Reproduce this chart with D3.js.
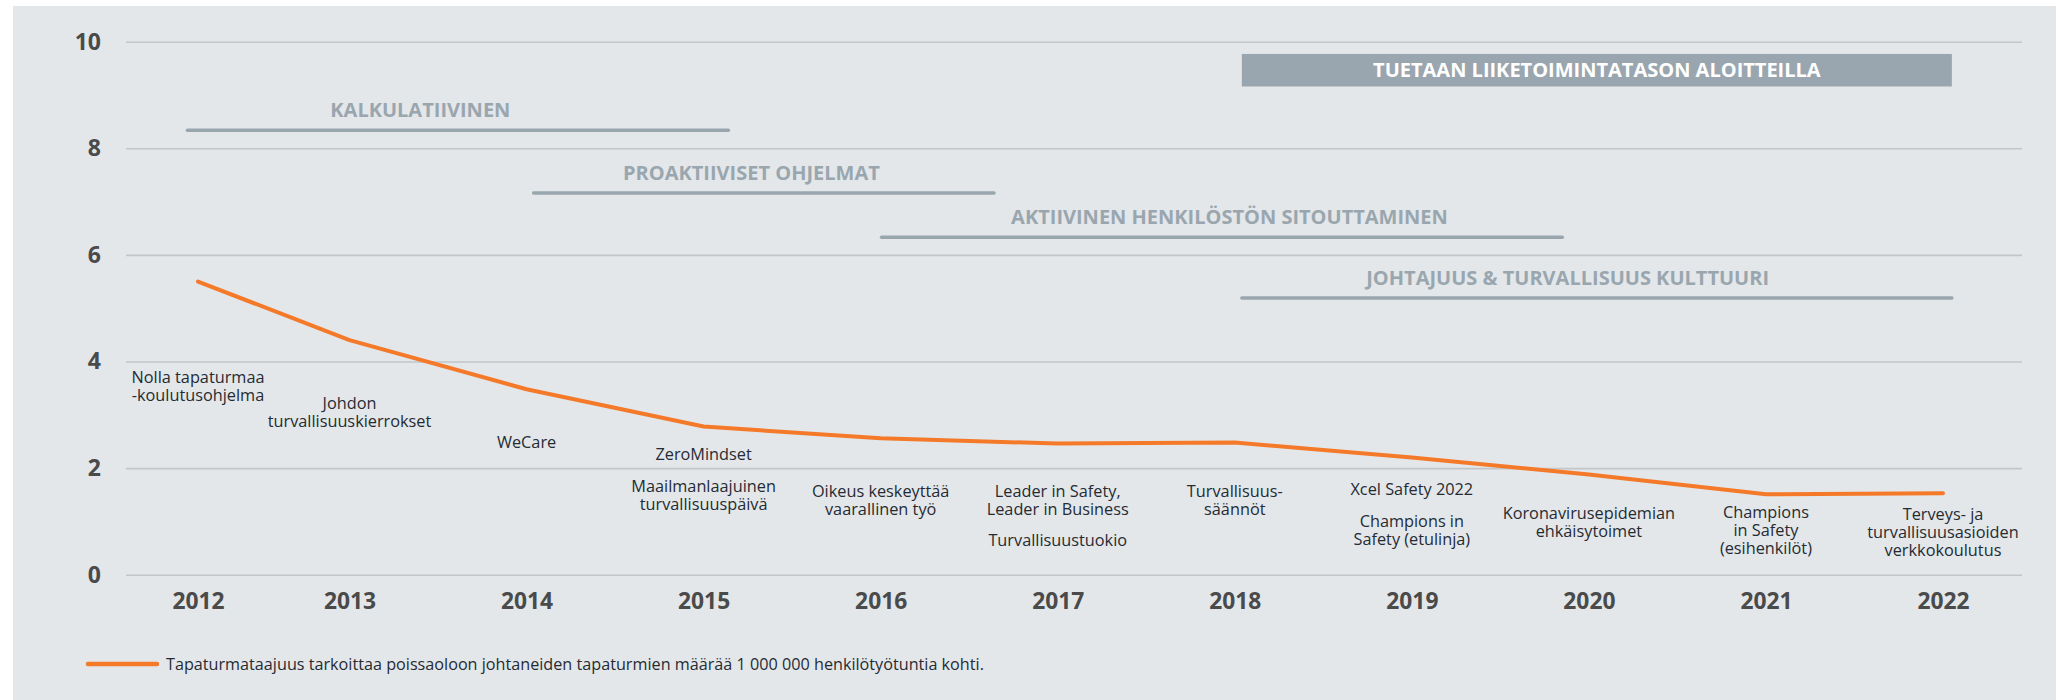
<!DOCTYPE html>
<html>
<head>
<meta charset="utf-8">
<script src="https://cdn.jsdelivr.net/npm/d3@7"></script>
<style>
  body { margin: 0; background: #fff; }
  svg { display: block; font-family: "Open Sans", "Noto Sans", sans-serif; }
</style>
</head>
<body>
<div id="chart"></div>
<script>
// chart values
const years = [2012, 2013, 2014, 2015, 2016, 2017, 2018, 2019, 2020, 2021, 2022];
const frequency = [5.50, 4.40, 3.48, 2.78, 2.56, 2.46, 2.48, 2.20, 1.88, 1.51, 1.53];
const yTicks = [0, 2, 4, 6, 8, 10];

// milestones under each year ("" = small gap)
const notes = [
  ["Nolla tapaturmaa", "-koulutusohjelma"],
  ["Johdon", "turvallisuuskierrokset"],
  ["WeCare"],
  ["ZeroMindset", "", "Maailmanlaajuinen", "turvallisuuspäivä"],
  ["Oikeus keskeyttää", "vaarallinen työ"],
  ["Leader in Safety,", "Leader in Business", "", "Turvallisuustuokio"],
  ["Turvallisuus-", "säännöt"],
  ["Xcel Safety 2022", "", "Champions in", "Safety (etulinja)"],
  ["Koronavirusepidemian", "ehkäisytoimet"],
  ["Champions", "in Safety", "(esihenkilöt)"],
  ["Terveys- ja", "turvallisuusasioiden", "verkkokoulutus"]
];
// first line of each note, in axis units
const noteLevel = [3.70, 3.22, 2.49, 2.26, 1.57, 1.57, 1.57, 1.60, 1.15, 1.17, 1.13];

// phases (time spans)
const phaseNames = ["KALKULATIIVINEN", "PROAKTIIVISET OHJELMAT", "AKTIIVINEN HENKILÖSTÖN SITOUTTAMINEN", "JOHTAJUUS & TURVALLISUUS KULTTUURI"];
const phaseStart = [2011.93, 2014.04, 2016.005, 2018.04];
const phaseEnd = [2015.14, 2016.64, 2019.85, 2022.05];
const phaseLabelAt = [2013.40, 2015.27, 2017.97, 2019.88];
const phaseLevel = [8.34, 7.16, 6.33, 5.19];

const bannerName = "TUETAAN LIIKETOIMINTATASON ALOITTEILLA";
const bannerSpan = [2018.04, 2022.05];
const bannerLevel = [9.16, 9.77];

const legendText = "Tapaturmataajuus tarkoittaa poissaoloon johtaneiden tapaturmien määrää 1 000 000 henkilötyötuntia kohti.";

// size
const width = 2069, height = 700;
const orange = "#f47a2a", phaseGrey = "#9aa6ae";

const svg = d3.select("#chart").append("svg")
  .attr("width", width)
  .attr("height", height);

svg.append("rect")
  .attr("x", 13).attr("y", 6)
  .attr("width", 2043).attr("height", 694)
  .attr("fill", "#e3e7ea");

// scales (first year sits a bit closer)
let x = d3.scaleLinear()
  .domain([2012, 2013, 2022])
  .range([198, 349.5, 1943]);
let y = d3.scaleLinear()
  .domain([0, 10])
  .range([574.7, 41.7]);

const gridLeft = 126, gridRight = 2022;

// y axis + gridlines
let yAxis = d3.axisLeft(y)
  .tickValues(yTicks)
  .tickSize(-(gridRight - gridLeft))
  .tickPadding(25);

let gy = svg.append("g")
  .attr("transform", "translate(" + gridLeft + ",0)")
  .call(yAxis);
gy.select(".domain").remove();
gy.selectAll(".tick line").attr("stroke", "#c2c6c9").attr("stroke-width", 1.6);
gy.selectAll(".tick text")
  .attr("fill", "#4a4a4a")
  .attr("font-size", 23)
  .attr("font-weight", 700)
  .attr("font-family", "Open Sans");

// x axis (year labels)
let xAxis = d3.axisBottom(x)
  .tickValues(years)
  .tickFormat(d3.format("d"))
  .tickSize(0);

let gx = svg.append("g")
  .attr("transform", "translate(0," + y(0) + ")")
  .call(xAxis);
gx.select(".domain").remove();
gx.selectAll(".tick text")
  .attr("y", 26)
  .attr("dy", "0.35em")
  .attr("fill", "#4a4a4a")
  .attr("font-size", 22.8)
  .attr("font-weight", 700)
  .attr("font-family", "Open Sans");

// banner
svg.append("rect")
  .attr("x", x(bannerSpan[0]))
  .attr("y", y(bannerLevel[1]))
  .attr("width", x(bannerSpan[1]) - x(bannerSpan[0]))
  .attr("height", y(bannerLevel[0]) - y(bannerLevel[1]))
  .attr("fill", "#9aa6af");
svg.append("text")
  .attr("x", (x(bannerSpan[0]) + x(bannerSpan[1])) / 2)
  .attr("y", y(d3.mean(bannerLevel)))
  .attr("dy", "0.35em")
  .attr("text-anchor", "middle")
  .attr("fill", "#fff")
  .attr("font-size", 20)
  .attr("font-weight", 700)
  .text(bannerName);

// phase lines
const phases = phaseNames.map((name, i) => ({
  name: name, start: phaseStart[i], end: phaseEnd[i], at: phaseLabelAt[i], level: phaseLevel[i]
}));

let gp = svg.append("g");
gp.selectAll("line")
  .data(phases)
  .join("line")
  .attr("x1", d => x(d.start))
  .attr("x2", d => x(d.end))
  .attr("y1", d => y(d.level))
  .attr("y2", d => y(d.level))
  .attr("stroke", phaseGrey)
  .attr("stroke-width", 3.5)
  .attr("stroke-linecap", "round");
gp.selectAll("text")
  .data(phases)
  .join("text")
  .attr("x", d => x(d.at))
  .attr("y", d => y(d.level) - 20)
  .attr("dy", "0.35em")
  .attr("text-anchor", "middle")
  .attr("fill", phaseGrey)
  .attr("font-size", 20)
  .attr("font-weight", 700)
  .text(d => d.name);

// milestone notes
const lineH = 17.8, gapH = 14;
let gn = svg.append("g")
  .attr("font-size", 16.3)
  .attr("fill", "#262b33");
notes.forEach((lines, i) => {
  let t = gn.append("text")
    .attr("text-anchor", "middle");
  let yy = y(noteLevel[i]);
  lines.forEach(l => {
    if (l === "") { yy += gapH; return; }
    t.append("tspan")
      .attr("x", x(years[i]))
      .attr("y", yy)
      .attr("dy", "0.35em")
      .text(l);
    yy += lineH;
  });
});

// frequency line
const data = years.map((yr, i) => ({year: yr, value: frequency[i]}));
let line = d3.line()
  .x(d => x(d.year))
  .y(d => y(d.value));

svg.append("path")
  .datum(data)
  .attr("d", line)
  .attr("fill", "none")
  .attr("stroke", orange)
  .attr("stroke-width", 4)
  .attr("stroke-linecap", "round")
  .attr("stroke-linejoin", "round");

// legend
let gl = svg.append("g").attr("transform", "translate(88,664)");
gl.append("line")
  .attr("x1", 0).attr("x2", 69)
  .attr("stroke", orange)
  .attr("stroke-width", 4.5)
  .attr("stroke-linecap", "round");
gl.append("text")
  .attr("x", 78)
  .attr("dy", "0.35em")
  .attr("font-size", 16.2)
  .attr("fill", "#262b33")
  .text(legendText);
</script>
</body>
</html>
